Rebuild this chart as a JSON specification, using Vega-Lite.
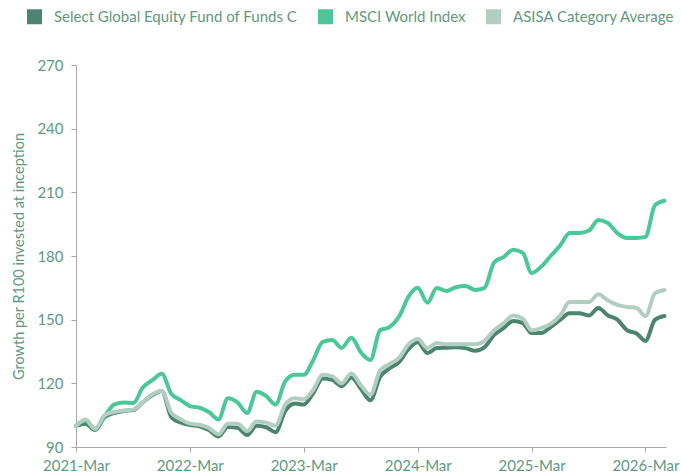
{
  "$schema": "https://vega.github.io/schema/vega-lite/v6.json",
  "width": 590,
  "height": 382,
  "autosize": "none",
  "padding": {"left": 76, "top": 65, "right": 15, "bottom": 27},
  "background": "white",
  "config": {
    "view": {"stroke": null},
    "font": "Lato",
    "axis": {
      "grid": false,
      "domainColor": "#a8a8a8",
      "tickColor": "#a8a8a8",
      "labelColor": "#5e9a82",
      "titleColor": "#5e9a82",
      "labelFont": "Lato",
      "titleFont": "Lato",
      "labelFontSize": 15,
      "titleFontWeight": "normal"
    }
  },
  "datasets": {
    "series": [
      {"date": "2021-03-01", "fund": 100, "msci": 100, "asisa": 100},
      {"date": "2021-04-01", "fund": 101, "msci": 102.5, "asisa": 103},
      {"date": "2021-05-01", "fund": 98, "msci": 98.5, "asisa": 98.5},
      {"date": "2021-06-01", "fund": 104, "msci": 104.5, "asisa": 105},
      {"date": "2021-07-01", "fund": 106, "msci": 110, "asisa": 106.5},
      {"date": "2021-08-01", "fund": 107, "msci": 111, "asisa": 107.2},
      {"date": "2021-09-01", "fund": 107.4, "msci": 110.7, "asisa": 107.6},
      {"date": "2021-10-01", "fund": 111, "msci": 118, "asisa": 111},
      {"date": "2021-11-01", "fund": 114.5, "msci": 121.5, "asisa": 114.8},
      {"date": "2021-12-01", "fund": 116.4, "msci": 124.5, "asisa": 116.5},
      {"date": "2022-01-01", "fund": 104, "msci": 115, "asisa": 106},
      {"date": "2022-02-01", "fund": 101.5, "msci": 112, "asisa": 103},
      {"date": "2022-03-01", "fund": 100.4, "msci": 109.3, "asisa": 101},
      {"date": "2022-04-01", "fund": 99.8, "msci": 108.5, "asisa": 100.5},
      {"date": "2022-05-01", "fund": 98, "msci": 106.5, "asisa": 99},
      {"date": "2022-06-01", "fund": 95, "msci": 103, "asisa": 96},
      {"date": "2022-07-01", "fund": 99.4, "msci": 113, "asisa": 101},
      {"date": "2022-08-01", "fund": 99, "msci": 111, "asisa": 101},
      {"date": "2022-09-01", "fund": 95.6, "msci": 106, "asisa": 97.5},
      {"date": "2022-10-01", "fund": 100, "msci": 116, "asisa": 102},
      {"date": "2022-11-01", "fund": 99.3, "msci": 114, "asisa": 101.5},
      {"date": "2022-12-01", "fund": 97, "msci": 110, "asisa": 100},
      {"date": "2023-01-01", "fund": 107, "msci": 121, "asisa": 110},
      {"date": "2023-02-01", "fund": 110.5, "msci": 124, "asisa": 113},
      {"date": "2023-03-01", "fund": 110, "msci": 124, "asisa": 112.5},
      {"date": "2023-04-01", "fund": 115.4, "msci": 131, "asisa": 117},
      {"date": "2023-05-01", "fund": 122.3, "msci": 139.5, "asisa": 124},
      {"date": "2023-06-01", "fund": 121.6, "msci": 140.4, "asisa": 123.3},
      {"date": "2023-07-01", "fund": 118.7, "msci": 136.7, "asisa": 120},
      {"date": "2023-08-01", "fund": 122.8, "msci": 141.5, "asisa": 124.6},
      {"date": "2023-09-01", "fund": 117.3, "msci": 134.5, "asisa": 119},
      {"date": "2023-10-01", "fund": 112, "msci": 131, "asisa": 114.6},
      {"date": "2023-11-01", "fund": 123, "msci": 145, "asisa": 126},
      {"date": "2023-12-01", "fund": 127, "msci": 146.5, "asisa": 129},
      {"date": "2024-01-01", "fund": 130, "msci": 151.5, "asisa": 132},
      {"date": "2024-02-01", "fund": 136.2, "msci": 161, "asisa": 138.5},
      {"date": "2024-03-01", "fund": 139.3, "msci": 165, "asisa": 140.9},
      {"date": "2024-04-01", "fund": 134.3, "msci": 158, "asisa": 136.6},
      {"date": "2024-05-01", "fund": 136.6, "msci": 164.9, "asisa": 139},
      {"date": "2024-06-01", "fund": 136.8, "msci": 163.5, "asisa": 138.4},
      {"date": "2024-07-01", "fund": 137, "msci": 165.3, "asisa": 138.4},
      {"date": "2024-08-01", "fund": 136.6, "msci": 165.9, "asisa": 138.4},
      {"date": "2024-09-01", "fund": 135.3, "msci": 164, "asisa": 138.4},
      {"date": "2024-10-01", "fund": 137, "msci": 165, "asisa": 140},
      {"date": "2024-11-01", "fund": 142.8, "msci": 177, "asisa": 145},
      {"date": "2024-12-01", "fund": 146, "msci": 179.5, "asisa": 148.3},
      {"date": "2025-01-01", "fund": 149.4, "msci": 183, "asisa": 152},
      {"date": "2025-02-01", "fund": 148.4, "msci": 181.5, "asisa": 150.5},
      {"date": "2025-03-01", "fund": 143.7, "msci": 172, "asisa": 145},
      {"date": "2025-04-01", "fund": 143.7, "msci": 175, "asisa": 146},
      {"date": "2025-05-01", "fund": 146.5, "msci": 180, "asisa": 148},
      {"date": "2025-06-01", "fund": 150, "msci": 185, "asisa": 152},
      {"date": "2025-07-01", "fund": 153, "msci": 190.8, "asisa": 158.3},
      {"date": "2025-08-01", "fund": 153, "msci": 190.8, "asisa": 158.3},
      {"date": "2025-09-01", "fund": 152, "msci": 192, "asisa": 158.3},
      {"date": "2025-10-01", "fund": 155.5, "msci": 197, "asisa": 162},
      {"date": "2025-11-01", "fund": 152, "msci": 195.5, "asisa": 159},
      {"date": "2025-12-01", "fund": 150, "msci": 190.8, "asisa": 157},
      {"date": "2026-01-01", "fund": 145, "msci": 188.5, "asisa": 156},
      {"date": "2026-02-01", "fund": 143.5, "msci": 188.5, "asisa": 155.5},
      {"date": "2026-03-01", "fund": 140, "msci": 189, "asisa": 151.7},
      {"date": "2026-04-01", "fund": 150, "msci": 204, "asisa": 162.5},
      {"date": "2026-05-01", "fund": 151.7, "msci": 206, "asisa": 164}
    ]
  },
  "data": {"name": "series"},
  "transform": [
    {"fold": ["fund", "msci", "asisa"], "as": ["key", "value"]},
    {"calculate": "datum.key === 'fund' ? 'Select Global Equity Fund of Funds C' : datum.key === 'msci' ? 'MSCI World Index' : 'ASISA Category Average'", "as": "series"}
  ],
  "mark": {"type": "line", "interpolate": "monotone", "strokeWidth": 4, "strokeCap": "round", "strokeJoin": "round"},
  "encoding": {
    "x": {
      "field": "date",
      "type": "temporal",
      "scale": {
        "type": "utc",
        "domain": [{"year": 2021, "month": 3, "date": 1, "utc": true}, {"year": 2026, "month": 5, "date": 6, "utc": true}]
      },
      "axis": {
        "title": null,
        "labelExpr": "utcFormat(datum.value, '%Y-%b')",
        "values": [
          {"year": 2021, "month": 3, "date": 1, "utc": true},
          {"year": 2022, "month": 3, "date": 1, "utc": true},
          {"year": 2023, "month": 3, "date": 1, "utc": true},
          {"year": 2024, "month": 3, "date": 1, "utc": true},
          {"year": 2025, "month": 3, "date": 1, "utc": true},
          {"year": 2026, "month": 3, "date": 1, "utc": true}
        ],
        "tickSize": 5,
        "labelPadding": 6,
        "labelOverlap": false,
        "labelFlush": false
      }
    },
    "y": {
      "field": "value",
      "type": "quantitative",
      "scale": {"domain": [90, 270], "nice": false, "zero": false},
      "axis": {
        "title": "Growth per R100 invested at inception",
        "titleFontSize": 14.5,
        "titlePadding": 10,
        "values": [90, 120, 150, 180, 210, 240, 270],
        "tickSize": 5,
        "labelPadding": 8
      }
    },
    "color": {
      "field": "series",
      "type": "nominal",
      "scale": {
        "domain": ["Select Global Equity Fund of Funds C", "MSCI World Index", "ASISA Category Average"],
        "range": ["#4b8570", "#4cc898", "#b2cec3"]
      },
      "legend": {
        "title": null,
        "orient": "none",
        "direction": "horizontal",
        "legendX": -49,
        "legendY": -56,
        "symbolType": "square",
        "symbolSize": 225,
        "symbolStrokeWidth": 0,
        "labelFontSize": 15,
        "labelFont": "Lato",
        "labelColor": "#5e9a82",
        "labelLimit": 0,
        "labelOffset": 12,
        "columnPadding": 20,
        "encode": {
          "symbols": {"update": {"fill": {"scale": "color", "field": "value"}, "strokeWidth": {"value": 0}}}
        }
      }
    },
    "order": {"field": "key", "type": "nominal"}
  }
}
